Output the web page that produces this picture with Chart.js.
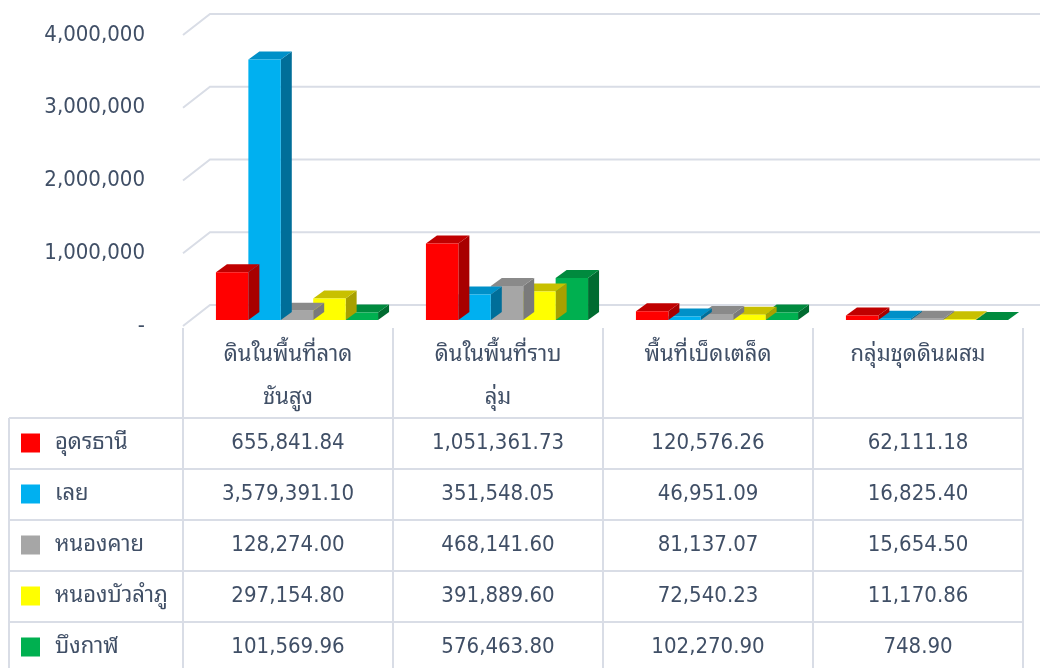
<!DOCTYPE html>
<html>
<head>
<meta charset="utf-8">
<script src="https://cdn.jsdelivr.net/npm/chart.js@4.4.1/dist/chart.umd.min.js"></script>
<style>
  html, body { margin: 0; padding: 0; background: #fff; }
</style>
</head>
<body>
<canvas id="soilChart" width="1047" height="668"></canvas>
<script>
// ข้อมูล (ไร่) แยกตามกลุ่มดิน
const categories = [['ดินในพื้นที่ลาด', 'ชันสูง'], ['ดินในพื้นที่ราบ', 'ลุ่ม'], ['พื้นที่เบ็ดเตล็ด'], ['กลุ่มชุดดินผสม']];
const provinces = ['อุดรธานี', 'เลย', 'หนองคาย', 'หนองบัวลำภู', 'บึงกาฬ'];
const udonThani = [655841.84, 1051361.73, 120576.26, 62111.18];
const loei = [3579391.10, 351548.05, 46951.09, 16825.40];
const nongKhai = [128274.00, 468141.60, 81137.07, 15654.50];
const nongBuaLamphu = [297154.80, 391889.60, 72540.23, 11170.86];
const buengKan = [101569.96, 576463.80, 102270.90, 748.90];
const yTicks = [0, 1000000, 2000000, 3000000, 4000000];

const FONT = "Tahoma, 'DejaVu Sans Condensed', 'Noto Sans', 'Noto Sans Thai Looped', Loma, Garuda, 'Noto Sans Thai', sans-serif";
const TEXT = '#404f66';
const LINE = '#d9dde6';

const fronts = ['#ff0000', '#00b0f0', '#a6a6a6', '#ffff00', '#00b050'];
const tops   = ['#c00000', '#0090c8', '#8a8a8a', '#c8c000', '#008a3e'];
const sides  = ['#a80000', '#006e99', '#7a7a7a', '#a8a000', '#006b30'];

const seriesValues = [udonThani, loei, nongKhai, nongBuaLamphu, buengKan];

const fmt = v => v.toLocaleString('en-US', { minimumFractionDigits: 2, maximumFractionDigits: 2 });

// เส้นกริดแบบ 3 มิติ (ผนังด้านหลัง)
const gridWall = {
  id: 'gridWall',
  beforeDatasetsDraw(chart) {
    const { ctx, chartArea: a, scales: { y } } = chart;
    ctx.save();
    ctx.strokeStyle = LINE;
    ctx.lineWidth = 2;
    yTicks.forEach(v => {
      const py = y.getPixelForValue(v);
      ctx.beginPath();
      ctx.moveTo(a.left - 9, py + 6);
      ctx.lineTo(a.left + 18, py - 15);
      ctx.lineTo(a.right + 8, py - 15);
      ctx.stroke();
    });
    ctx.restore();
  }
};

// ด้านบนและด้านข้างของแท่ง
const bars3d = {
  id: 'bars3d',
  beforeDatasetDraw(chart, args) {
    const { ctx } = chart;
    const i = args.index;
    const dx = 11, dy = -8;
    ctx.save();
    args.meta.data.forEach(bar => {
      const { x, y, base, width } = bar.getProps(['x', 'y', 'base', 'width'], true);
      const l = x - width / 2, r = x + width / 2;
      ctx.fillStyle = sides[i];
      ctx.beginPath();
      ctx.moveTo(r, y); ctx.lineTo(r + dx, y + dy); ctx.lineTo(r + dx, base + dy); ctx.lineTo(r, base);
      ctx.closePath(); ctx.fill();
      ctx.fillStyle = tops[i];
      ctx.beginPath();
      ctx.moveTo(l, y); ctx.lineTo(l + dx, y + dy); ctx.lineTo(r + dx, y + dy); ctx.lineTo(r, y);
      ctx.closePath(); ctx.fill();
    });
    ctx.restore();
  }
};

// ตารางข้อมูลใต้กราฟ
const dataTable = {
  id: 'dataTable',
  afterDraw(chart) {
    const { ctx, scales: { x } } = chart;
    const step = x.getPixelForValue(1) - x.getPixelForValue(0);
    const colLeft = i => x.getPixelForValue(i) - step / 2 - 9;
    const left = 9, headTop = 328, headBottom = 418, rowH = 51, bottom = 668;
    const right = colLeft(categories.length);

    ctx.save();
    ctx.strokeStyle = LINE;
    ctx.lineWidth = 2;
    ctx.beginPath();
    for (let c = 0; c <= categories.length; c++) {
      const cx = colLeft(c);
      ctx.moveTo(cx, headTop); ctx.lineTo(cx, bottom);
    }
    ctx.moveTo(left, headBottom); ctx.lineTo(left, bottom);
    for (let r = 0; r < provinces.length; r++) {
      const ry = headBottom + r * rowH;
      ctx.moveTo(left, ry); ctx.lineTo(right, ry);
    }
    ctx.stroke();

    ctx.fillStyle = TEXT;
    ctx.font = '22px ' + FONT;
    ctx.textAlign = 'center';
    ctx.textBaseline = 'middle';
    categories.forEach((lines, c) => {
      const cx = colLeft(c) + step / 2;
      lines.forEach((t, k) => ctx.fillText(t, cx, 355 + k * 43));
    });

    provinces.forEach((name, r) => {
      const cy = headBottom + r * rowH + rowH / 2;
      ctx.fillStyle = fronts[r];
      ctx.fillRect(21, cy - 10, 19, 19);
      ctx.fillStyle = TEXT;
      ctx.textAlign = 'left';
      ctx.fillText(name, 55, cy);
      ctx.textAlign = 'center';
      seriesValues[r].forEach((v, c) => {
        ctx.fillText(fmt(v), colLeft(c) + step / 2, cy);
      });
    });
    ctx.restore();
  }
};

Chart.defaults.font.family = FONT;

new Chart(document.getElementById('soilChart'), {
  type: 'bar',
  data: {
    labels: categories,
    datasets: provinces.map((p, i) => ({
      label: p,
      data: seriesValues[i],
      backgroundColor: fronts[i],
      borderWidth: 0,
      categoryPercentage: 0.772,
      barPercentage: 1
    }))
  },
  options: {
    responsive: false,
    animation: false,
    layout: { padding: { left: 0, top: 29, right: 15, bottom: 348 } },
    plugins: {
      legend: { display: false },
      tooltip: { enabled: false }
    },
    scales: {
      x: { display: false },
      y: {
        min: 0,
        max: 4000000,
        afterFit(scale) {
          scale.width = 192;
          scale.paddingTop = 0;
          scale.paddingBottom = 0;
        },
        border: { display: false },
        grid: { display: false, drawTicks: false },
        ticks: {
          stepSize: 1000000,
          padding: 47,
          labelOffset: 6,
          color: TEXT,
          font: { size: 22 },
          callback: v => v === 0 ? '-' : v.toLocaleString('en-US')
        }
      }
    }
  },
  plugins: [gridWall, bars3d, dataTable]
});
</script>
</body>
</html>
